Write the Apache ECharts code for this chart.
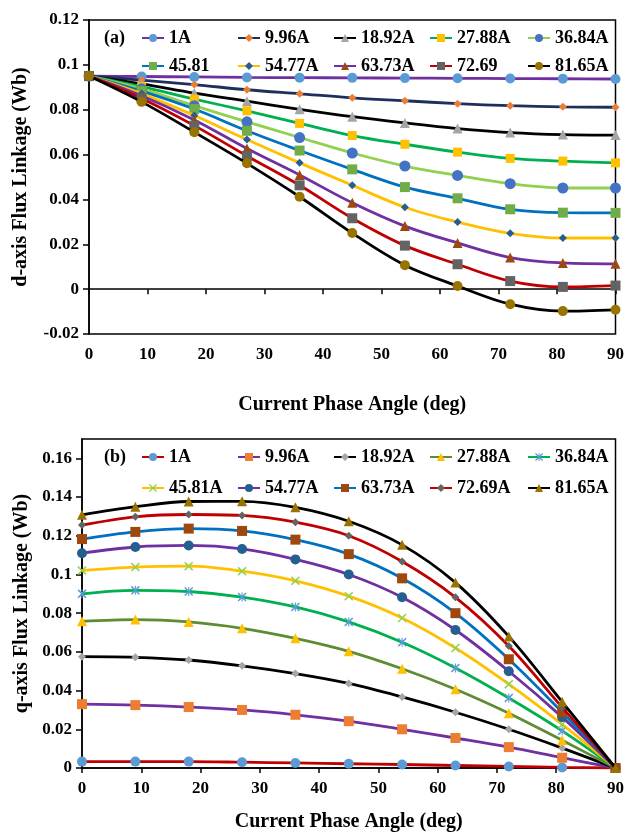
<!DOCTYPE html>
<html>
<head>
<meta charset="utf-8">
<script src="https://cdn.jsdelivr.net/npm/echarts@6/dist/echarts.min.js"></script>
<style>
  html, body { margin: 0; padding: 0; background: #fff; }
  #top { position: absolute; left: 0; top: 0; width: 627px; height: 420px; }
  #bot { position: absolute; left: 0; top: 420px; width: 627px; height: 417px; }
</style>
</head>
<body>
<div id="top"></div>
<div id="bot"></div>
<script>
// ---------- data ----------
const angles = [0, 9, 18, 27, 36, 45, 54, 63, 72, 81, 90];
const xTicks = [0, 10, 20, 30, 40, 50, 60, 70, 80, 90];

const dNames = ['1A', '9.96A', '18.92A', '27.88A', '36.84A', '45.81', '54.77A', '63.73A', '72.69', '81.65A'];
const qNames = ['1A', '9.96A', '18.92A', '27.88A', '36.84A', '45.81A', '54.77A', '63.73A', '72.69A', '81.65A'];

// d-axis flux linkage (Wb)
const d_1A    = [0.095, 0.0948, 0.0946, 0.0944, 0.0943, 0.0942, 0.0941, 0.0940, 0.0939, 0.0938, 0.0937];
const d_9_96  = [0.095, 0.0932, 0.0912, 0.0889, 0.0871, 0.0853, 0.0840, 0.0827, 0.0818, 0.0813, 0.0811];
const d_18_92 = [0.095, 0.0915, 0.0874, 0.0838, 0.0802, 0.0769, 0.0741, 0.0716, 0.0698, 0.0689, 0.0687];
const d_27_88 = [0.095, 0.0903, 0.0847, 0.0795, 0.0739, 0.0685, 0.0646, 0.0611, 0.0583, 0.0571, 0.0563];
const d_36_84 = [0.095, 0.0893, 0.0818, 0.0746, 0.0676, 0.0607, 0.0549, 0.0507, 0.0470, 0.0451, 0.0451];
const d_45_81 = [0.095, 0.0883, 0.0803, 0.0706, 0.0618, 0.0534, 0.0455, 0.0405, 0.0356, 0.0341, 0.0340];
const d_54_77 = [0.095, 0.0872, 0.0774, 0.0667, 0.0563, 0.0463, 0.0365, 0.0299, 0.0249, 0.0228, 0.0228];
const d_63_73 = [0.095, 0.0862, 0.0754, 0.0627, 0.0509, 0.0385, 0.0281, 0.0206, 0.0141, 0.0117, 0.0113];
const d_72_69 = [0.095, 0.0850, 0.0729, 0.0594, 0.0463, 0.0316, 0.0194, 0.0111, 0.0036, 0.0010, 0.0016];
const d_81_65 = [0.095, 0.0835, 0.0700, 0.0561, 0.0412, 0.0250, 0.0107, 0.0014, -0.0067, -0.0098, -0.0092];

// q-axis flux linkage (Wb)
const q_1A    = [0.0033, 0.0033, 0.0033, 0.0030, 0.0026, 0.0022, 0.0018, 0.0013, 0.0008, 0.0003, 0];
const q_9_96  = [0.0330, 0.0325, 0.0315, 0.0300, 0.0275, 0.0242, 0.0200, 0.0155, 0.0108, 0.0053, 0];
const q_18_92 = [0.0575, 0.0572, 0.0558, 0.0528, 0.0488, 0.0437, 0.0367, 0.0288, 0.0200, 0.0103, 0];
const q_27_88 = [0.0758, 0.0767, 0.0755, 0.0722, 0.0670, 0.0603, 0.0513, 0.0407, 0.0283, 0.0143, 0];
const q_36_84 = [0.0900, 0.0918, 0.0912, 0.0883, 0.0832, 0.0755, 0.0650, 0.0517, 0.0362, 0.0192, 0];
const q_45_81 = [0.1020, 0.1038, 0.1043, 0.1017, 0.0967, 0.0888, 0.0775, 0.0620, 0.0433, 0.0225, 0];
const q_54_77 = [0.1110, 0.1142, 0.1150, 0.1132, 0.1078, 0.1000, 0.0882, 0.0713, 0.0500, 0.0263, 0];
const q_63_73 = [0.1183, 0.1220, 0.1237, 0.1225, 0.1180, 0.1105, 0.0980, 0.0800, 0.0562, 0.0288, 0];
const q_72_69 = [0.1255, 0.1298, 0.1310, 0.1305, 0.1270, 0.1200, 0.1067, 0.0882, 0.0630, 0.0313, 0];
const q_81_65 = [0.1308, 0.1350, 0.1377, 0.1378, 0.1347, 0.1275, 0.1153, 0.0958, 0.0680, 0.0342, 0];

const dSeriesData = [d_1A, d_9_96, d_18_92, d_27_88, d_36_84, d_45_81, d_54_77, d_63_73, d_72_69, d_81_65];
const qSeriesData = [q_1A, q_9_96, q_18_92, q_27_88, q_36_84, q_45_81, q_54_77, q_63_73, q_72_69, q_81_65];

// ---------- styles ----------
const FONT = '"Liberation Serif", "Times New Roman", serif';
const X_SHAPE = 'path://M0,1.2L1.2,0L5,3.8L8.8,0L10,1.2L6.2,5L10,8.8L8.8,10L5,6.2L1.2,10L0,8.8L3.8,5Z';
const STAR_SHAPE = 'path://M0,1.2L1.2,0L5,3.8L8.8,0L10,1.2L6.2,5L10,8.8L8.8,10L5,6.2L1.2,10L0,8.8L3.8,5Z M4.4,0L5.6,0L5.6,10L4.4,10Z';

const dLine   = ['#7030A0', '#1F2F5C', '#000000', '#00B050', '#92D050', '#0070C0', '#FFC000', '#7030A0', '#C00000', '#000000'];
const dMarker = ['#5B9BD5', '#ED7D31', '#A5A5A5', '#FFC000', '#4472C4', '#70AD47', '#255E91', '#9E480E', '#636363', '#997300'];
const dSymbol = ['circle', 'diamond', 'triangle', 'rect', 'circle', 'rect', 'diamond', 'triangle', 'rect', 'circle'];
const dSize   = [10, 8, 10, 9, 11, 10, 8, 10, 10, 10];

const qLine   = ['#C00000', '#7030A0', '#000000', '#5E8C31', '#00B050', '#FFC000', '#7030A0', '#0070C0', '#C00000', '#000000'];
const qMarker = ['#5B9BD5', '#ED7D31', '#A5A5A5', '#FFC000', '#5B9BD5', '#92D050', '#255E91', '#9E480E', '#636363', '#997300'];
const qSymbol = ['circle', 'rect', 'diamond', 'triangle', STAR_SHAPE, X_SHAPE, 'circle', 'rect', 'diamond', 'triangle'];
const qSize   = [10, 10, 8, 10, 9, 9, 10, 10, 8, 10];

const legendCols = [141, 237, 333, 429, 527];

function buildOption(cfg) {
  const series = cfg.names.map((n, i) => ({
    name: n,
    type: 'line',
    smooth: 0.35,
    data: angles.map((a, j) => [a, cfg.data[i][j]]),
    symbol: cfg.symbol[i],
    symbolSize: cfg.size[i],
    showAllSymbol: true,
    lineStyle: { color: cfg.line[i], width: 2.8 },
    itemStyle: { color: cfg.marker[i], borderWidth: 0 },
    emphasis: { disabled: true },
    z: 2 + i
  }));
  const legends = cfg.names.map((n, i) => ({
    data: [n],
    left: legendCols[i % 5],
    top: cfg.legendTops[Math.floor(i / 5)],
    padding: 0,
    itemWidth: 22,
    itemHeight: 10,
    selectedMode: false,
    textStyle: { fontFamily: FONT, fontWeight: 'bold', fontSize: 18, color: '#000' }
  }));
  return {
    animation: false,
    backgroundColor: '#fff',
    title: {
      text: cfg.tag, left: cfg.tagLeft, top: cfg.tagTop, padding: 0,
      textStyle: { fontFamily: FONT, fontWeight: 'bold', fontSize: 18, color: '#000' }
    },
    legend: legends,
    grid: {
      left: cfg.grid.left, right: cfg.grid.right, top: cfg.grid.top, bottom: cfg.grid.bottom,
      show: true, borderColor: '#000', borderWidth: 1.5, backgroundColor: 'transparent'
    },
    xAxis: {
      type: 'value', min: 0, max: 90, interval: 10,
      name: 'Current Phase Angle (deg)', nameLocation: 'middle', nameGap: cfg.xNameGap,
      nameTextStyle: { fontFamily: FONT, fontWeight: 'bold', fontSize: 20, color: '#000' },
      axisLine: { show: true, onZero: true, lineStyle: { color: '#000', width: 1.5 } },
      axisTick: { show: true, inside: false, length: 5, lineStyle: { color: '#000', width: 1.5 } },
      axisLabel: { fontFamily: FONT, fontWeight: 'bold', fontSize: 17, color: '#000', margin: cfg.xMargin,
                   formatter: v => (xTicks.indexOf(v) >= 0 ? String(v) : '') },
      splitLine: { show: false }
    },
    yAxis: {
      type: 'value', min: cfg.yMin, max: cfg.yMax, interval: 0.02,
      name: cfg.yName, nameLocation: 'middle', nameGap: cfg.yNameGap,
      nameTextStyle: { fontFamily: FONT, fontWeight: 'bold', fontSize: 20, color: '#000' },
      axisLine: { show: true, onZero: false, lineStyle: { color: '#000', width: 1.5 } },
      axisTick: { show: true, inside: false, length: 6, lineStyle: { color: '#000', width: 1.5 } },
      axisLabel: { fontFamily: FONT, fontWeight: 'bold', fontSize: 17, color: '#000', margin: 10,
                   showMaxLabel: cfg.showMax,
                   formatter: v => String(parseFloat(v.toFixed(4))) },
      splitLine: { show: false }
    },
    series: series
  };
}

const topChart = echarts.init(document.getElementById('top'), null, { renderer: 'canvas' });
topChart.setOption(buildOption({
  names: dNames, data: dSeriesData, line: dLine, marker: dMarker, symbol: dSymbol, size: dSize,
  legendTops: [29, 57], tag: '(a)', tagLeft: 104, tagTop: 29,
  grid: { left: 89, right: 8, top: 20, bottom: 25 },
  xNameGap: 61, xMargin: 12, yName: 'd-axis Flux Linkage (Wb)', yNameGap: 58,
  yMin: -0.02, yMax: 0.12, showMax: true
}));

const botChart = echarts.init(document.getElementById('bot'), null, { renderer: 'canvas' });
botChart.setOption(buildOption({
  names: qNames, data: qSeriesData, line: qLine, marker: qMarker, symbol: qSymbol, size: qSize,
  legendTops: [28, 59], tag: '(b)', tagLeft: 104, tagTop: 28,
  grid: { left: 82, right: 10, top: 19, bottom: 62 },
  xNameGap: 44, xMargin: 12, yName: 'q-axis Flux Linkage (Wb)', yNameGap: 50,
  yMin: 0, yMax: 0.17, showMax: false
}));
</script>
</body>
</html>
